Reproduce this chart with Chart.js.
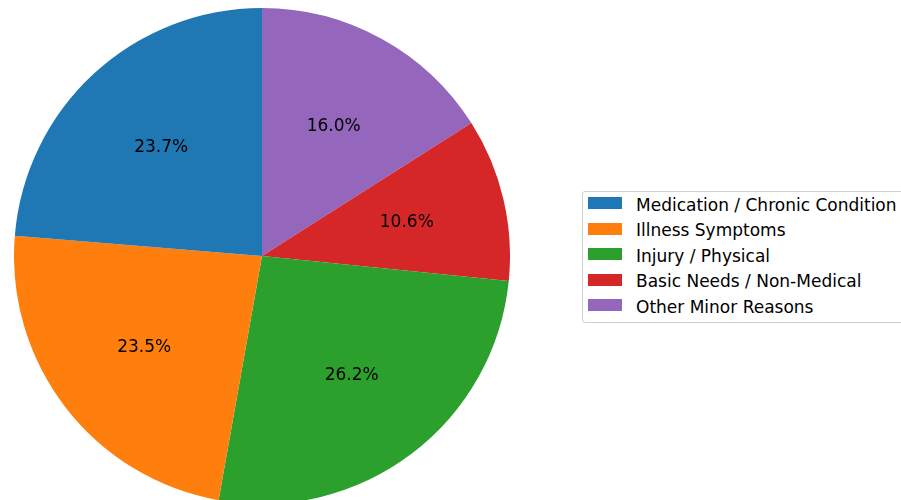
<!DOCTYPE html>
<html>
<head>
<meta charset="utf-8">
<script src="https://cdn.jsdelivr.net/npm/chart.js@4"></script>
<style>
  html, body { margin: 0; padding: 0; background: #fff; overflow: hidden; }
  body { width: 901px; height: 500px; position: relative; font-family: "DejaVu Sans", sans-serif; }
  #pieWrap { position: absolute; left: 14px; top: 8px; width: 496px; height: 496px; }
  #legend {
    position: absolute; left: 582px; top: 191px; width: 340px; height: 132px;
    border: 1px solid #d0d0d0; border-radius: 3px; box-sizing: border-box;
    background: rgba(255,255,255,0.8);
  }
  .item { position: absolute; left: 5px; height: 22px; font-size: 17px; color: #000; white-space: nowrap; }
  .item span.sw { position: absolute; left: 0; top: 4px; width: 34px; height: 12px; }
  .item span.tx { position: absolute; left: 48px; top: 1.5px; line-height: 20px; }
</style>
</head>
<body>
<div id="pieWrap"><canvas id="pie" width="496" height="496"></canvas></div>
<div id="legend"></div>
<script>
// data, in the order matplotlib draws them (counterclockwise from 12 o'clock)
let categories = ['Medication / Chronic Condition', 'Illness Symptoms', 'Injury / Physical', 'Basic Needs / Non-Medical', 'Other Minor Reasons'];
let shares = [23.7, 23.5, 26.2, 10.6, 16.0];
let colors = ['#1f77b4', '#ff7f0e', '#2ca02c', '#d62728', '#9467bd'];

// Chart.js goes clockwise, so feed it reversed copies
let revLabels = categories.slice().reverse();
let revShares = shares.slice().reverse();
let revColors = colors.slice().reverse();

// percent labels at 0.6 of the radius, like autopct
let pctLabels = {
    id: 'pctLabels',
    afterDatasetsDraw(chart) {
        let ctx = chart.ctx;
        let meta = chart.getDatasetMeta(0);
        let total = revShares.reduce((a, b) => a + b, 0);
        ctx.save();
        ctx.font = '17px "DejaVu Sans"';
        ctx.fillStyle = '#000';
        ctx.textAlign = 'center';
        ctx.textBaseline = 'middle';
        meta.data.forEach(function(arc, i) {
            let p = arc.getProps(['x', 'y', 'startAngle', 'endAngle', 'outerRadius'], true);
            let mid = (p.startAngle + p.endAngle) / 2;
            let r = p.outerRadius * 0.6;
            let value = (revShares[i] / total * 100).toFixed(1) + '%';
            ctx.fillText(value, p.x + Math.cos(mid) * r, p.y + Math.sin(mid) * r + 1);
        });
        ctx.restore();
    }
};

let pie = new Chart(document.getElementById('pie').getContext('2d'), {
    type: 'pie',
    data: {
        labels: revLabels,
        datasets: [{
            data: revShares,
            backgroundColor: revColors,
            borderWidth: 0,
        }]
    },
    options: {
        responsive: false,
        animation: false,
        layout: { padding: 0 },
        plugins: {
            legend: { display: false },
            tooltip: { enabled: false }
        }
    },
    plugins: [pctLabels]
});

// legend in original order
let legend = document.getElementById('legend');
categories.forEach(function(name, i) {
    let row = document.createElement('div');
    row.className = 'item';
    row.style.top = (1 + i * 25.5) + 'px';
    row.innerHTML = '<span class="sw" style="background:' + colors[i] + '"></span><span class="tx">' + name + '</span>';
    legend.appendChild(row);
});
</script>
</body>
</html>
